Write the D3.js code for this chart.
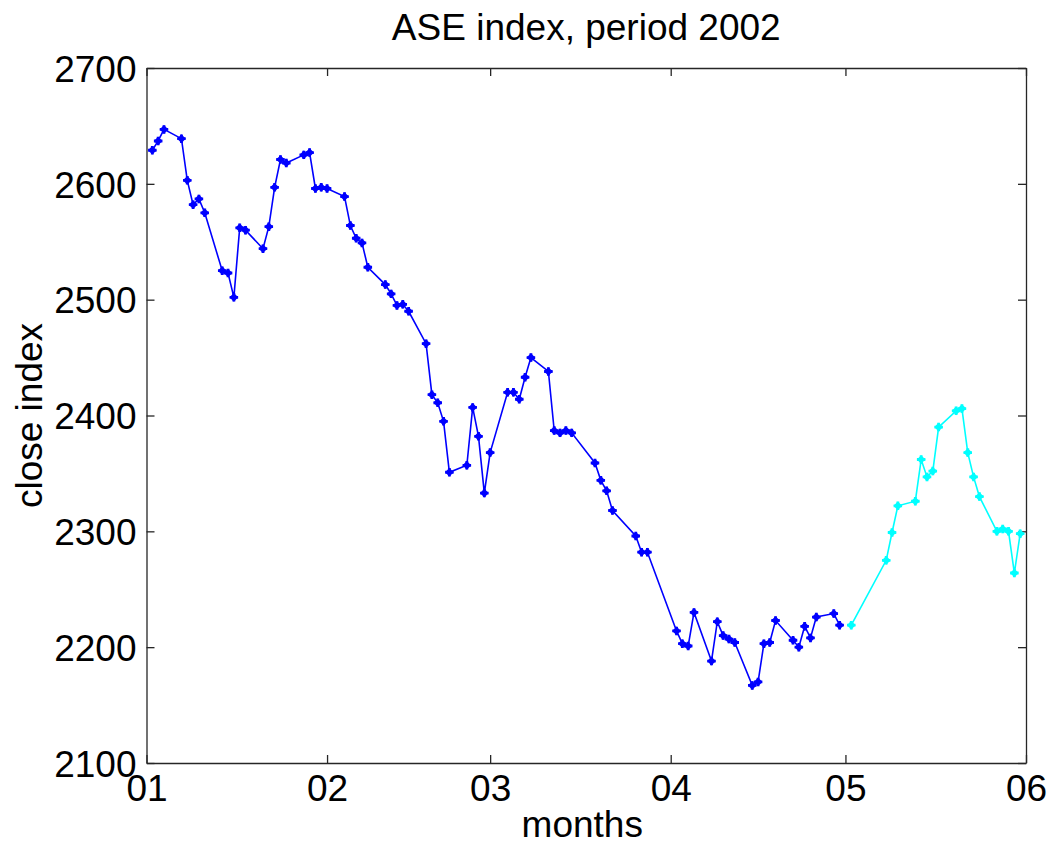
<!DOCTYPE html>
<html>
<head>
<meta charset="utf-8">
<script src="https://cdn.jsdelivr.net/npm/d3@7"></script>
<style>
  html, body { margin: 0; padding: 0; background: #fff; }
  svg { display: block; }
  text { font-family: "Liberation Sans", Arial, Helvetica, sans-serif; fill: #000; }
</style>
</head>
<body>
<svg id="chart" width="1055" height="845"></svg>
<script>
// ---- data ----
const titleText = "ASE index, period 2002";
const xLabel = "months";
const yLabel = "close index";

const blueDates = [
  "2002-01-02","2002-01-03","2002-01-04","2002-01-07","2002-01-08","2002-01-09","2002-01-10","2002-01-11",
  "2002-01-14","2002-01-15","2002-01-16","2002-01-17","2002-01-18","2002-01-21","2002-01-22","2002-01-23",
  "2002-01-24","2002-01-25","2002-01-28","2002-01-29","2002-01-30","2002-01-31","2002-02-01","2002-02-04",
  "2002-02-05","2002-02-06","2002-02-07","2002-02-08","2002-02-11","2002-02-12","2002-02-13","2002-02-14",
  "2002-02-15","2002-02-18","2002-02-19","2002-02-20","2002-02-21","2002-02-22","2002-02-25","2002-02-26",
  "2002-02-27","2002-02-28","2002-03-01","2002-03-04","2002-03-05","2002-03-06","2002-03-07","2002-03-08",
  "2002-03-11","2002-03-12","2002-03-13","2002-03-14","2002-03-15","2002-03-19","2002-03-20","2002-03-21",
  "2002-03-22","2002-03-26","2002-03-27","2002-03-28","2002-04-02","2002-04-03","2002-04-04","2002-04-05",
  "2002-04-08","2002-04-09","2002-04-10","2002-04-11","2002-04-12","2002-04-15","2002-04-16","2002-04-17",
  "2002-04-18","2002-04-19","2002-04-22","2002-04-23","2002-04-24","2002-04-25","2002-04-26","2002-04-29",
  "2002-04-30"
];
const blueValues = [
  2629,2637,2647,2639,2603,2582,2587,2575,
  2525,2523,2502,2562,2560,2544,2563,2597,
  2621,2618,2625,2627,2596,2597,2596,2589,
  2564,2553,2549,2528,2513,2505,2495,2496,
  2490,2462,2418,2411,2395,2351,2357,2407,
  2382,2333,2368,2420,2420,2414,2433,2450,
  2438,2387,2385,2387,2385,2359,2344,2335,
  2318,2296,2282,2282,2214,2203,2201,2230,
  2188,2222,2210,2207,2204,2167,2170,2203,
  2204,2223,2206,2200,2218,2208,2226,2229,
  2219
];

const cyanDates = [
  "2002-05-02","2002-05-08","2002-05-09","2002-05-10","2002-05-13","2002-05-14","2002-05-15","2002-05-16",
  "2002-05-17","2002-05-20","2002-05-21","2002-05-22","2002-05-23","2002-05-24","2002-05-27","2002-05-28",
  "2002-05-29","2002-05-30","2002-05-31"
];
const cyanValues = [
  2219,2275,2299,2322,2326,2362,2347,2352,
  2390,2404,2406,2368,2347,2330,2300,2302,
  2300,2264,2298
];

const yTicks = [2100,2200,2300,2400,2500,2600,2700];
const xTickDates = ["2002-01-01","2002-02-01","2002-03-01","2002-04-01","2002-05-01","2002-06-01"];
const xTickLabels = ["01","02","03","04","05","06"];

// ---- chart ----
const parse = d3.timeParse("%Y-%m-%d");
const svg = d3.select("#chart");
const L = 146.5, R = 1026, T = 68, B = 763;
const fontSize = 37;

const x = d3.scaleTime()
  .domain([parse("2002-01-01"), parse("2002-06-01")])
  .range([L, R]);
const y = d3.scaleLinear().domain([2100, 2700]).range([B, T]);

const tickDates = xTickDates.map(parse);
const tickLen = 8;
const axisColor = "#262626";

// axes (MATLAB-style box with inward ticks)
const gBottom = svg.append("g").attr("transform", `translate(0,${B})`)
  .call(d3.axisBottom(x).tickValues(tickDates)
    .tickFormat((d, i) => xTickLabels[i]).tickSizeInner(-tickLen).tickSizeOuter(0).tickPadding(12));
const gTop = svg.append("g").attr("transform", `translate(0,${T})`)
  .call(d3.axisTop(x).tickValues(tickDates).tickFormat("").tickSizeInner(-tickLen).tickSizeOuter(0));
const gLeft = svg.append("g").attr("transform", `translate(${L},0)`)
  .call(d3.axisLeft(y).tickValues(yTicks).tickFormat(d3.format("d"))
    .tickSizeInner(-tickLen).tickSizeOuter(0).tickPadding(10));
const gRight = svg.append("g").attr("transform", `translate(${R},0)`)
  .call(d3.axisRight(y).tickValues(yTicks).tickFormat("").tickSizeInner(-tickLen).tickSizeOuter(0));

[gBottom, gTop, gLeft, gRight].forEach(g => {
  g.select(".domain").attr("stroke", axisColor).attr("stroke-width", 1.3);
  g.selectAll(".tick line").attr("stroke", axisColor).attr("stroke-width", 1.3);
  g.selectAll(".tick text").attr("font-size", fontSize).attr("font-family", null).attr("fill", "#000");
});
gBottom.selectAll(".tick text").attr("dy", "0.71em");
gLeft.selectAll(".tick text").attr("dy", "0.36em");

// series
function drawSeries(dates, values, color) {
  const pts = dates.map((d, i) => ({ date: parse(d), value: values[i] }));
  const line = d3.line().x(d => x(d.date)).y(d => y(d.value));
  svg.append("path").datum(pts)
    .attr("fill", "none").attr("stroke", color).attr("stroke-width", 1.6)
    .attr("d", line);
  const g = svg.append("g").attr("fill", color);
  g.selectAll("path.d").data(pts).enter().append("path")
    .attr("transform", d => `translate(${x(d.date)},${y(d.value)})`)
    .attr("d", d3.symbol().type(d3.symbolDiamond2).size(48));
  g.selectAll("path.c").data(pts).enter().append("path")
    .attr("transform", d => `translate(${x(d.date)},${y(d.value)})`)
    .attr("d", d3.symbol().type(d3.symbolCross).size(40));
}
drawSeries(blueDates, blueValues, "#0000ff");
drawSeries(cyanDates, cyanValues, "#00ffff");

// labels
svg.append("text").attr("x", (L + R) / 2).attr("y", 40)
  .attr("text-anchor", "middle").attr("font-size", fontSize).text(titleText);
svg.append("text").attr("x", (L + R) / 2 - 4).attr("y", 837)
  .attr("text-anchor", "middle").attr("font-size", fontSize).text(xLabel);
svg.append("text")
  .attr("transform", `translate(42,${(T + B) / 2}) rotate(-90)`)
  .attr("text-anchor", "middle").attr("font-size", fontSize).text(yLabel);
</script>
</body>
</html>
